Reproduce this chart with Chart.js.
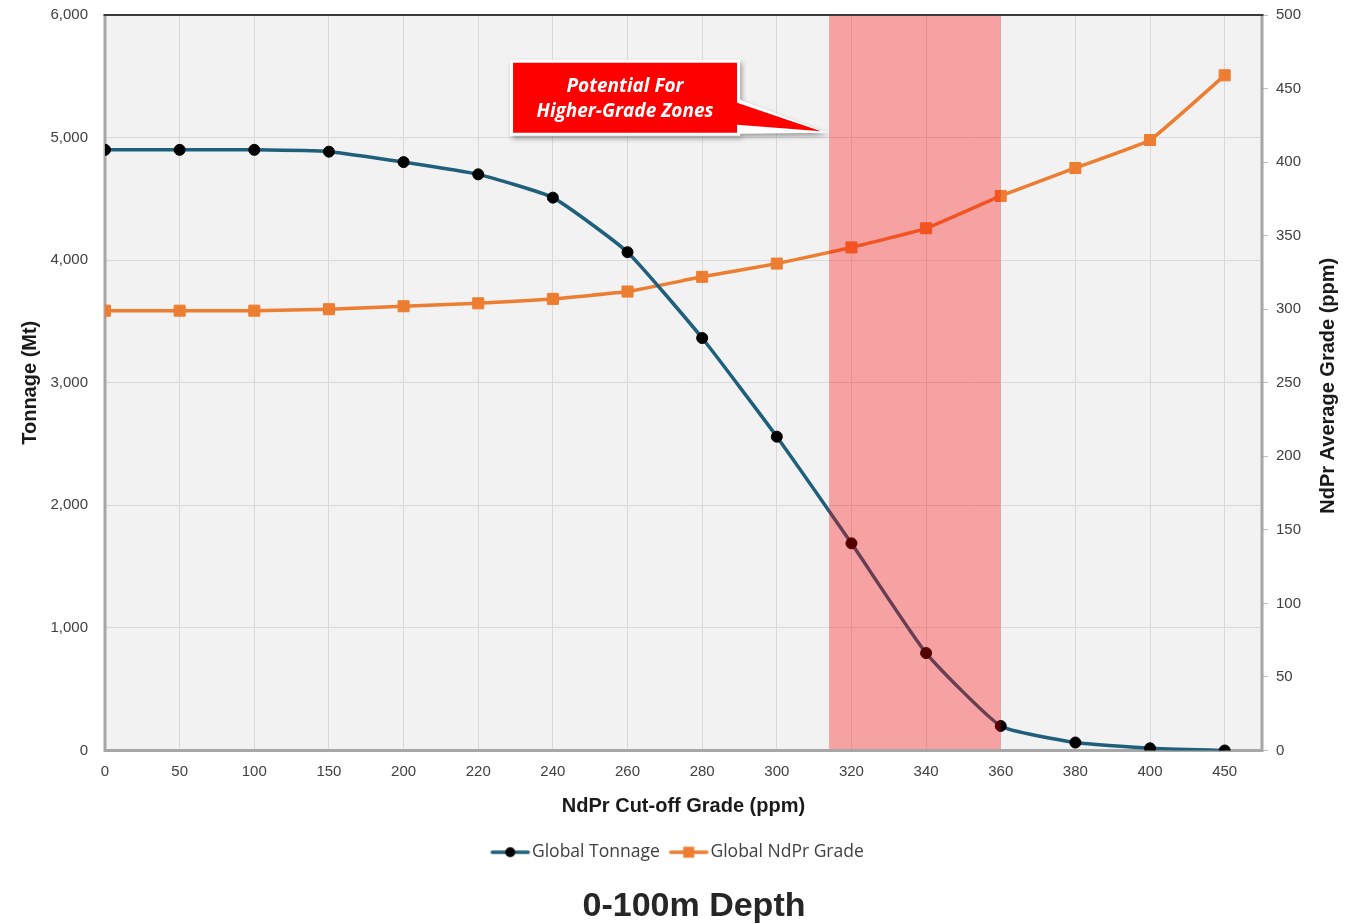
<!DOCTYPE html>
<html><head><meta charset="utf-8">
<script src="https://cdn.jsdelivr.net/npm/chart.js@4.4.0/dist/chart.umd.min.js"></script>
<style>html,body{margin:0;padding:0;background:#fff}#wrap{width:1355px;height:924px}</style>
</head><body><div id="wrap"><canvas id="c" width="1355" height="924"></canvas></div>
<script>
// ---- data ----
const cutoffGrades = [0,50,100,150,200,220,240,260,280,300,320,340,360,380,400,450];
const tonnageMt    = [4900,4900,4900,4885,4800,4700,4510,4065,3365,2560,1690,795,200,65,18,0];
const ndprGradePpm = [299,299,299,300,302,304,307,312,322,331,342,355,377,396,415,459];
const tonnageAxis = {min:0, max:6000, step:1000};
const gradeAxis = {min:0, max:500, step:50};
const bandRange = [314, 360];           // highlighted cut-off range (ppm)
const calloutTipTonnage = 5040;          // callout pointer height (Mt)
const calloutLines = ['Potential For', 'Higher-Grade Zones'];
const seriesNames = ['Global Tonnage', 'Global NdPr Grade'];
const axisTitles = {x:'NdPr Cut-off Grade (ppm)', y:'Tonnage (Mt)', y2:'NdPr Average Grade (ppm)'};
const chartTitle = '0-100m Depth';

const TEAL = '#1f5f7b', ORANGE = '#ed7d31';

function gradeToIndex(g){
  for (let i=0;i<cutoffGrades.length-1;i++){
    const a=cutoffGrades[i], b=cutoffGrades[i+1];
    if (g>=a && g<=b) return i + (g-a)/(b-a);
  }
  return cutoffGrades.length-1;
}

function legendImage(color, marker){
  const c=document.createElement('canvas'); c.width=60; c.height=16;
  const x=c.getContext('2d');
  x.strokeStyle=color; x.lineWidth=3.5; x.lineCap='round';
  x.beginPath(); x.moveTo(15,8); x.lineTo(51,8); x.stroke();
  if(marker==='circle'){ x.fillStyle='#000'; x.beginPath(); x.arc(33,8,5,0,Math.PI*2); x.fill(); }
  else { x.fillStyle=color; x.fillRect(27.5,2.5,11,11); }
  return c;
}
const legendImgs=[legendImage(TEAL,'circle'), legendImage(ORANGE,'rect')];

const bgPlugin = {
  id:'bg',
  beforeDraw(chart){
    const {ctx, chartArea:a}=chart;
    ctx.save(); ctx.fillStyle='#f2f2f2'; ctx.fillRect(a.left,a.top,a.right-a.left,a.bottom-a.top); ctx.restore();
  },
  beforeDatasetsDraw(chart){
    const {ctx, chartArea:a}=chart;
    ctx.save();
    ctx.strokeStyle='#a6a6a6'; ctx.lineWidth=3;
    ctx.beginPath();
    ctx.moveTo(a.left, a.top); ctx.lineTo(a.left, a.bottom); ctx.lineTo(a.right, a.bottom); ctx.lineTo(a.right, a.top);
    ctx.stroke();
    ctx.strokeStyle='#3a3a3a'; ctx.lineWidth=2;
    ctx.beginPath(); ctx.moveTo(a.left-1.5, a.top); ctx.lineTo(a.right+1.5, a.top); ctx.stroke();
    ctx.restore();
  },
  afterDatasetsDraw(chart){
    const {ctx, chartArea:a, scales}=chart;
    const x1=scales.x.getPixelForValue(gradeToIndex(bandRange[0]));
    const x2=scales.x.getPixelForValue(gradeToIndex(bandRange[1]));
    ctx.save(); ctx.fillStyle='rgba(255,0,0,0.33)';
    ctx.fillRect(x1, a.top+1, x2-x1, a.bottom-a.top-2.5);
    ctx.restore();
  },
  afterDraw(chart){
    const {ctx, chartArea:a, scales}=chart;
    // callout
    const tipX=scales.x.getPixelForValue(gradeToIndex(bandRange[0]))-4;
    const tipY=scales.y.getPixelForValue(calloutTipTonnage);
    const bx=tipX-312, by=tipY-70, bw=224, bh=70;
    ctx.save();
    ctx.shadowColor='rgba(0,0,0,0.35)'; ctx.shadowBlur=5; ctx.shadowOffsetX=2; ctx.shadowOffsetY=3;
    ctx.fillStyle='#ffffff';
    ctx.beginPath();
    ctx.moveTo(bx-3,by-3); ctx.lineTo(bx+bw+3,by-3); ctx.lineTo(bx+bw+3,by+37);
    ctx.lineTo(tipX+2,tipY); ctx.lineTo(bx+bw+3,by+bh+1); ctx.lineTo(bx+bw+3,by+bh+3); ctx.lineTo(bx-3,by+bh+3);
    ctx.closePath(); ctx.fill();
    ctx.shadowColor='transparent';
    ctx.fillStyle='#ff0000';
    ctx.beginPath();
    ctx.moveTo(bx,by); ctx.lineTo(bx+bw,by); ctx.lineTo(bx+bw,by+40);
    ctx.lineTo(tipX-4,tipY-1.5); ctx.lineTo(bx+bw,by+bh-8); ctx.lineTo(bx+bw,by+bh); ctx.lineTo(bx,by+bh);
    ctx.closePath(); ctx.fill();
    ctx.fillStyle='#ffffff'; ctx.font='italic bold 19px "Open Sans"';
    ctx.textAlign='center'; ctx.textBaseline='middle';
    ctx.fillText(calloutLines[0], bx+bw/2, by+24);
    ctx.fillText(calloutLines[1], bx+bw/2, by+49);
    ctx.restore();
    // right axis title (bottom-to-top)
    ctx.save();
    ctx.translate(1328, (a.top+a.bottom)/2+3);
    ctx.rotate(-Math.PI/2);
    ctx.fillStyle='#1a1a1a'; ctx.font='bold 20px "Liberation Sans"';
    ctx.textAlign='center'; ctx.textBaseline='middle';
    ctx.fillText(axisTitles.y2,0,0);
    ctx.restore();
    // bottom chart title
    ctx.save();
    ctx.fillStyle='#262626'; ctx.font='bold 34px "Liberation Sans"';
    ctx.textAlign='center'; ctx.textBaseline='middle';
    ctx.fillText(chartTitle, 694, 907);
    ctx.restore();
  }
};

const tickFont={family:'"Liberation Sans"', size:15};
new Chart(document.getElementById('c'), {
  type:'line',
  data:{
    datasets:[
      {label:seriesNames[0], data:tonnageMt.map((v,i)=>({x:i,y:v})), yAxisID:'y',
       borderColor:TEAL, borderWidth:3.5, pointStyle:'circle', pointRadius:5.5,
       pointBackgroundColor:'#000', pointBorderColor:'#000', pointBorderWidth:1, tension:0.15},
      {label:seriesNames[1], data:ndprGradePpm.map((v,i)=>({x:i,y:v})), yAxisID:'y2',
       borderColor:ORANGE, borderWidth:3.5, pointStyle:'rect', pointRadius:7.8,
       pointBackgroundColor:ORANGE, pointBorderColor:ORANGE, pointBorderWidth:1, tension:0.1}
    ]
  },
  options:{
    responsive:false, animation:false, devicePixelRatio:1,
    layout:{padding:{top:15,left:0,right:0,bottom:53}},
    scales:{
      x:{type:'linear', min:0, max:cutoffGrades.length-0.5,
        afterBuildTicks(s){ s.ticks=cutoffGrades.map((g,i)=>({value:i})); },
        ticks:{callback:(v)=>String(cutoffGrades[v]), font:tickFont, color:'#404040', padding:12, maxRotation:0, autoSkip:false},
        grid:{color:'#d9d9d9', drawTicks:false}, border:{display:false},
        title:{display:true, text:axisTitles.x, font:{family:'"Liberation Sans"', size:20, weight:'bold'}, color:'#1a1a1a', padding:{top:2,bottom:15}}
      },
      y:{position:'left', min:tonnageAxis.min, max:tonnageAxis.max,
        ticks:{stepSize:tonnageAxis.step, font:tickFont, color:'#404040', padding:17},
        grid:{color:'#d9d9d9', drawTicks:false}, border:{display:false},
        afterFit(s){ s.width=105; s.paddingTop=0; s.paddingBottom=0; },
        title:{display:true, text:axisTitles.y, font:{family:'"Liberation Sans"', size:20, weight:'bold'}, color:'#1a1a1a', padding:{top:18,bottom:0}}
      },
      y2:{position:'right', min:gradeAxis.min, max:gradeAxis.max,
        ticks:{stepSize:gradeAxis.step, font:tickFont, color:'#404040', padding:8},
        grid:{drawOnChartArea:false, tickLength:6, tickColor:'#bfbfbf'}, border:{display:false},
        afterFit(s){ s.width=93; s.paddingTop=0; s.paddingBottom=0; }
      }
    },
    plugins:{
      legend:{position:'bottom',
        labels:{usePointStyle:true, pointStyleWidth:32, padding:10,
          font:{family:'"Open Sans"', size:17.5}, color:'#404040',
          generateLabels(chart){
            return chart.data.datasets.map((d,i)=>({text:d.label, pointStyle:legendImgs[i], datasetIndex:i,
              fillStyle:'transparent', strokeStyle:'transparent', lineWidth:0, hidden:false, fontColor:'#404040'}));
          }}},
      title:{display:false},
      tooltip:{enabled:false}
    }
  },
  plugins:[bgPlugin]
});
</script></body></html>
